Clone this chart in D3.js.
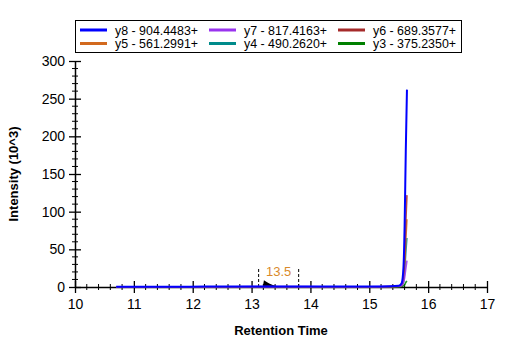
<!DOCTYPE html>
<html>
<head>
<meta charset="utf-8">
<script src="https://cdn.jsdelivr.net/npm/d3@7"></script>
<style>
  body { margin: 0; background: #fff; }
  text { font-family: "Liberation Sans", Arial, sans-serif; }
</style>
</head>
<body>
<div id="chart-area"></div>
<script>
// retention times (min) shared by all ion traces
const rt = [10.70, 11.20, 11.70, 12.20, 12.70, 13.20, 13.70, 14.20, 14.70, 15.20, 15.50, 15.55, 15.58, 15.60, 15.62, 15.64]

const ionNames = ["y8 - 904.4483+", "y7 - 817.4163+", "y6 - 689.3577+", "y5 - 561.2991+", "y4 - 490.2620+", "y3 - 375.2350+"]
const ionColors = ["#0000ff", "#9933ee", "#a52a2a", "#d2691e", "#008b8b", "#008000"]

const y8 = [0.4, 0.4, 0.4, 0.5, 0.5, 0.8, 0.6, 0.5, 0.5, 0.6, 1.5, 5, 25, 80, 180, 262]
const y7 = [0.3, 0.3, 0.3, 0.3, 0.4, 0.5, 0.5, 0.4, 0.4, 0.5, 1.0, 2, 6, 12, 24, 35]
const y6 = [0.2, 0.2, 0.2, 0.3, 0.3, 0.4, 0.4, 0.3, 0.3, 0.4, 1.0, 3, 12, 38, 85, 122]
const y5 = [0.2, 0.2, 0.2, 0.2, 0.3, 0.4, 0.3, 0.3, 0.3, 0.3, 0.8, 2, 9, 28, 62, 90]
const y4 = [0.1, 0.1, 0.1, 0.2, 0.2, 0.3, 0.3, 0.2, 0.2, 0.3, 0.6, 2, 6, 20, 45, 65]
const y3 = [0.1, 0.1, 0.1, 0.1, 0.1, 0.2, 0.2, 0.1, 0.1, 0.2, 0.3, 0.6, 1.5, 3, 6, 8]
const ionValues = [y8, y7, y6, y5, y4, y3]

// small integrated peak near 13.3 min
const peakRt = [13.19, 13.21, 13.25, 13.30, 13.36, 13.44, 13.50]
const peakVal = [0, 9, 7, 4.5, 2.5, 1, 0.3]
const peakStart = 13.12
const peakEnd = 13.80
const peakLabel = "13.5"

const xTicks = [10, 11, 12, 13, 14, 15, 16, 17]
const yTicks = [0, 50, 100, 150, 200, 250, 300]

const MARGIN = { LEFT: 75, RIGHT: 20, TOP: 61, BOTTOM: 64 }
const W = 507, H = 351
const WIDTH = 487 - MARGIN.LEFT
const HEIGHT = 287 - MARGIN.TOP

const svg = d3.select("#chart-area").append("svg")
  .attr("width", W)
  .attr("height", H)

const g = svg.append("g")
  .attr("transform", `translate(${MARGIN.LEFT}, ${MARGIN.TOP})`)

const x = d3.scaleLinear().domain([10, 17]).range([0, WIDTH])
const y = d3.scaleLinear().domain([0, 300]).range([HEIGHT, 0])

// minor ticks
const xMinor = d3.range(10, 17.001, 0.2).filter(v => Math.abs(v - Math.round(v)) > 0.01)
const yMinor = d3.range(0, 300.1, 10).filter(v => v % 50 !== 0)

g.selectAll(".xminor").data(xMinor).enter().append("line")
  .attr("x1", d => x(d)).attr("x2", d => x(d))
  .attr("y1", HEIGHT - 3).attr("y2", HEIGHT + 3)
  .attr("stroke", "#000")
g.selectAll(".yminor").data(yMinor).enter().append("line")
  .attr("y1", d => y(d)).attr("y2", d => y(d))
  .attr("x1", -3).attr("x2", 3)
  .attr("stroke", "#000")

// X axis
const xAxis = g.append("g")
  .attr("transform", `translate(0, ${HEIGHT})`)
  .call(d3.axisBottom(x).tickValues(xTicks).tickSize(6).tickSizeOuter(0).tickFormat(d3.format("d")))
xAxis.select(".domain").attr("stroke", "#000").attr("stroke-width", 1.5)
xAxis.selectAll(".tick line").attr("y1", -6).attr("y2", 6).attr("stroke-width", 1.3)
xAxis.selectAll("text").attr("font-size", "14px").attr("y", 12).attr("fill", "#000")

// Y axis
const yAxis = g.append("g")
  .call(d3.axisLeft(y).tickValues(yTicks).tickSize(6).tickSizeOuter(0))
yAxis.select(".domain").attr("stroke", "#000").attr("stroke-width", 1.5)
yAxis.selectAll(".tick line").attr("x1", -6).attr("x2", 6).attr("stroke-width", 1.3)
yAxis.selectAll("text").attr("font-size", "14px").attr("x", -10).attr("fill", "#000")

// axis labels
g.append("text")
  .attr("x", WIDTH / 2)
  .attr("y", HEIGHT + 48)
  .attr("text-anchor", "middle")
  .attr("font-size", "13px")
  .attr("font-weight", "bold")
  .text("Retention Time")

g.append("text")
  .attr("transform", "rotate(-90)")
  .attr("x", -HEIGHT / 2)
  .attr("y", -57)
  .attr("text-anchor", "middle")
  .attr("font-size", "13px")
  .attr("font-weight", "bold")
  .text("Intensity (10^3)")

// integrated peak area
const area = d3.area()
  .x((d, i) => x(peakRt[i]))
  .y0(y(0))
  .y1(d => y(d))
g.append("path")
  .datum(peakVal)
  .attr("d", area)
  .attr("fill", "#000")

// peak boundaries
;[peakStart, peakEnd].forEach(t => {
  g.append("line")
    .attr("x1", x(t)).attr("x2", x(t))
    .attr("y1", y(0)).attr("y2", y(26))
    .attr("stroke", "#000")
    .attr("stroke-dasharray", "3,2")
})
g.append("text")
  .attr("x", x((peakStart + peakEnd) / 2))
  .attr("y", y(14))
  .attr("text-anchor", "middle")
  .attr("font-size", "13px")
  .attr("fill", "#d98a2b")
  .text(peakLabel)

// ion traces, y8 on top
const line = d3.line()
  .x((d, i) => x(rt[i]))
  .y(d => y(d))
  .curve(d3.curveMonotoneX)

for (let k = ionValues.length - 1; k >= 0; k--) {
  g.append("path")
    .datum(ionValues[k])
    .attr("d", line)
    .attr("fill", "none")
    .attr("stroke", ionColors[k])
    .attr("stroke-width", k === 0 ? 2 : 1.6)
    .attr("opacity", k === 0 ? 1 : 0.85)
}

// legend
const legend = svg.append("g")
legend.append("rect")
  .attr("x", 75.5).attr("y", 20.5)
  .attr("width", 386).attr("height", 32)
  .attr("fill", "#fff").attr("stroke", "#000")

const colX = [78, 207, 336]
ionNames.forEach((name, i) => {
  const cx = colX[i % 3]
  const cy = 30 + Math.floor(i / 3) * 13.5
  legend.append("line")
    .attr("x1", cx + 2).attr("x2", cx + 29)
    .attr("y1", cy).attr("y2", cy)
    .attr("stroke", ionColors[i]).attr("stroke-width", 3)
  legend.append("text")
    .attr("x", cx + 37).attr("y", cy + 4.5)
    .attr("font-size", "12.4px")
    .text(name)
})
</script>
</body>
</html>
